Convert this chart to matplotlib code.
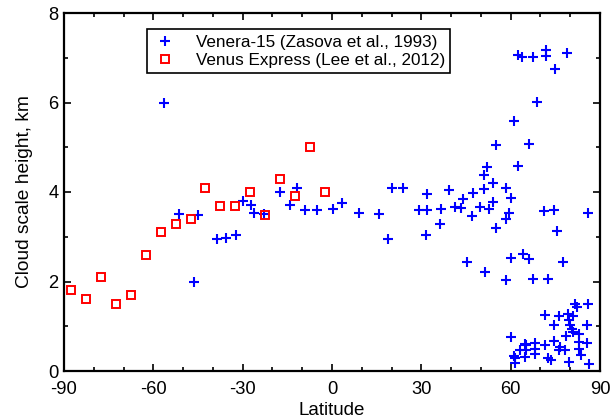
import matplotlib
matplotlib.use("Agg")
import matplotlib.pyplot as plt
from matplotlib.ticker import MultipleLocator

plt.rcParams['font.family'] = ['Liberation Sans', 'DejaVu Sans']
plt.rcParams['axes.unicode_minus'] = False

# Venera-15 (Zasova et al., 1993)
venera_lat = [-56.5, -51.3, -45.0, -46.5, -38.6, -35.7, -32.3, -29.9, -27.2, -26.1,
              -22.7, -17.5, -14.0, -11.7, -9.2, -5.2, 0.3, 3.4, 8.9, 15.8,
              18.8, 20.0, 23.7, 29.2, 31.9, 32.0, 31.5, 36.5, 36.3, 39.3,
              41.3, 43.2, 44.1, 47.1, 47.2, 49.8, 51.1, 51.1, 52.1, 52.8,
              54.0, 54.2, 55.1, 55.2, 58.3, 58.3, 59.3, 60.1, 61.1, 62.3,
              66.1, 69.0, 71.3, 74.5, 75.4, 86.1, 45.3, 51.3, 60.1, 64.2,
              66.0, 77.5, 58.4, 67.5, 72.4,
              62.4, 63.8, 67.4, 71.7, 71.7, 78.8, 74.9,
              60.1, 61.0, 61.3, 61.6, 63.3, 64.9, 65.3, 64.9, 65.2, 68.3,
              68.3, 68.3, 71.6, 71.6, 72.4, 73.6, 74.4, 74.6, 76.3, 76.7,
              76.1, 78.3, 78.5, 79.2, 79.7, 79.7, 80.0, 80.5, 80.9, 80.9,
              81.7, 82.2, 82.8, 82.8, 82.8, 83.5, 85.6, 85.6, 86.1, 86.4]
venera_h = [6.00, 3.50, 3.49, 2.00, 2.96, 2.98, 3.04, 3.81, 3.70, 3.52,
            3.50, 4.01, 3.70, 4.08, 3.59, 3.60, 3.63, 3.75, 3.54, 3.50,
            2.94, 4.08, 4.10, 3.60, 3.60, 3.96, 3.03, 3.62, 3.28, 4.05,
            3.67, 3.65, 3.85, 3.46, 3.97, 3.66, 4.07, 4.39, 4.56, 3.62,
            3.77, 4.19, 5.05, 3.20, 4.08, 3.39, 3.52, 3.87, 5.58, 4.57,
            5.07, 6.02, 3.58, 3.60, 3.13, 3.54, 2.44, 2.21, 2.53, 2.61,
            2.50, 2.44, 2.04, 2.06, 2.06,
            7.06, 7.02, 7.02, 7.18, 7.04, 7.11, 6.74,
            0.77, 0.33, 0.29, 0.17, 0.48, 0.61, 0.46, 0.32, 0.58, 0.62,
            0.49, 0.38, 0.57, 1.26, 0.29, 0.25, 1.02, 0.67, 1.24, 0.53,
            0.46, 0.46, 0.79, 1.28, 1.14, 0.21, 1.02, 0.94, 1.22, 0.87,
            1.50, 1.44, 0.83, 0.64, 0.49, 0.35, 1.03, 0.63, 1.50, 0.15]

# Venus Express (Lee et al., 2012)
vex_lat = [-87.5, -82.5, -77.5, -72.5, -67.5, -62.5, -57.5, -52.5, -47.5, -42.5,
           -37.5, -32.5, -27.5, -22.5, -17.5, -12.5, -7.5, -2.5]
vex_h = [1.80, 1.60, 2.09, 1.50, 1.70, 2.59, 3.10, 3.29, 3.40, 4.10,
         3.69, 3.69, 3.99, 3.49, 4.30, 3.90, 5.00, 3.99]

x_ticks = [-90, -60, -30, 0, 30, 60, 90]
y_ticks = [0, 2, 4, 6, 8]

fig = plt.figure(figsize=(6.14, 4.18), dpi=100)
ax = fig.add_axes([64/614, 1 - 371/418, 536/614, 358/418])

ax.plot(venera_lat, venera_h, linestyle='none', marker='+', color='#0000ff',
        markersize=7, markeredgewidth=1.5, label='Venera-15 (Zasova et al., 1993)')
ax.plot(vex_lat, vex_h, linestyle='none', marker='s', markerfacecolor='none',
        markeredgecolor='#ff0000', markersize=5.5, markeredgewidth=1.4,
        label='Venus Express (Lee et al., 2012)')

ax.set_xlim(-90, 90)
ax.set_ylim(0, 8)
ax.set_xticks(x_ticks)
ax.set_yticks(y_ticks)
ax.xaxis.set_minor_locator(MultipleLocator(10))
ax.yaxis.set_minor_locator(MultipleLocator(1))
ax.tick_params(which='both', direction='in', top=True, right=True, width=1.2,
               labelsize=13.2)
ax.tick_params(axis='x', which='major', pad=7)
ax.tick_params(axis='y', which='major', pad=4)
ax.tick_params(which='major', length=5)
ax.tick_params(which='minor', length=3)
for s in ax.spines.values():
    s.set_linewidth(1.6)

ax.set_xlabel('Latitude', fontsize=13.5, labelpad=3)
ax.set_ylabel('Cloud scale height, km', fontsize=13.8, labelpad=11)

leg = ax.legend(loc='upper left', bbox_to_anchor=(0.154, 0.954), borderaxespad=0,
                fontsize=12.3, frameon=True, fancybox=False, edgecolor='black',
                framealpha=1, handlelength=1.6, handletextpad=1.0, borderpad=0.3,
                labelspacing=0.2)
leg.get_frame().set_linewidth(1.2)

fig.savefig('out.png', dpi=100)
